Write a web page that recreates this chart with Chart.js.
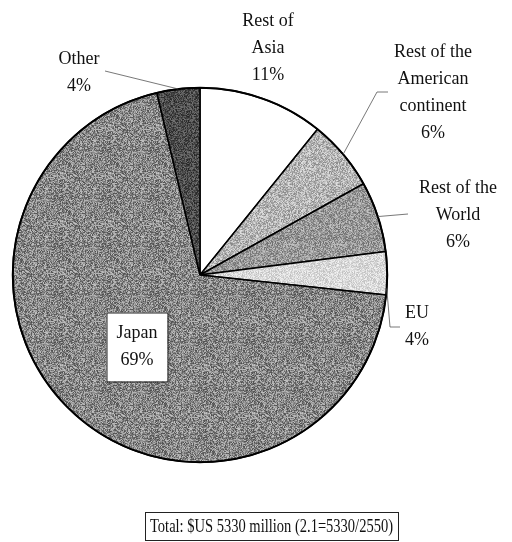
<!DOCTYPE html>
<html>
<head>
<meta charset="utf-8">
<script src="https://cdn.jsdelivr.net/npm/chart.js@4.4.0/dist/chart.umd.min.js"></script>
<style>
  html, body { margin: 0; padding: 0; background: #fff; }
  #wrap { width: 512px; height: 542px; position: relative; }
</style>
</head>
<body>
<div id="wrap"><canvas id="pie"></canvas></div>
<script>
// Data (clockwise from 12 o'clock)
const regions = ['Rest of Asia', 'Rest of the American continent', 'Rest of the World', 'EU', 'Japan', 'Other'];
const shares = [10.8, 6.1, 6.1, 3.7, 69.6, 3.7];
const shareLabels = ['11%', '6%', '6%', '4%', '69%', '4%'];
const labelLines = [['Rest of', 'Asia'], ['Rest of the', 'American', 'continent'], ['Rest of the', 'World'], ['EU'], ['Japan'], ['Other']];
const totalNote = 'Total: $US 5330 million (2.1=5330/2550)';

const FONT = '18px "Liberation Serif", "Times New Roman", serif';
const LINE_H = 27;

// label placement, relative to the pie centre (px); leader runs from the arc edge
const labelLayout = [
  { pos: [68, -227] },
  { pos: [233, -182], leader: [[177, -183], [188, -183]] },
  { pos: [258, -60], leader: [[208, -61]] },
  { pos: [217, 52], anchorFrac: 0.85, leader: [[190, 52], [200, 52]] },
  { pos: [-63, 72], boxed: true },
  { pos: [-121, -202], leader: [[-95, -204]] },
];

// grainy greys like the scanned print
function texture(base, amp, seed) {
  const n = 48;
  const c = document.createElement('canvas');
  c.width = c.height = n;
  const g = c.getContext('2d');
  const img = g.createImageData(n, n);
  for (let i = 0; i < n * n; i++) {
    const h = Math.sin((i + seed * 977) * 12.9898 + 78.233) * 43758.5453;
    const f = h - Math.floor(h);
    const v = Math.max(0, Math.min(255, Math.round(base + (f - 0.5) * amp)));
    img.data[i * 4] = img.data[i * 4 + 1] = img.data[i * 4 + 2] = v;
    img.data[i * 4 + 3] = 255;
  }
  g.putImageData(img, 0, 0);
  return g.createPattern(c, 'repeat');
}

const fills = [
  '#ffffff',
  texture(180, 90, 1),
  texture(152, 90, 2),
  texture(218, 55, 3),
  texture(136, 120, 4),
  texture(76, 80, 5),
];

const pieLabels = {
  id: 'pieLabels',
  afterDatasetsDraw(chart) {
    const ctx = chart.ctx;
    const arcs = chart.getDatasetMeta(0).data;
    const cx = arcs[0].x, cy = arcs[0].y, r = arcs[0].outerRadius;

    // outer rim
    ctx.save();
    ctx.beginPath();
    ctx.arc(cx, cy, r, 0, Math.PI * 2);
    ctx.lineWidth = 2;
    ctx.strokeStyle = '#000';
    ctx.stroke();

    ctx.font = FONT;
    ctx.textAlign = 'center';
    ctx.textBaseline = 'middle';

    arcs.forEach((arc, i) => {
      const lay = labelLayout[i];
      const lines = labelLines[i].concat([shareLabels[i]]);
      const lx = cx + lay.pos[0], ly = cy + lay.pos[1];

      if (lay.leader) {
        const frac = lay.anchorFrac ?? 0.5;
        const a = arc.startAngle + (arc.endAngle - arc.startAngle) * frac;
        ctx.beginPath();
        ctx.moveTo(cx + Math.cos(a) * r, cy + Math.sin(a) * r);
        lay.leader.forEach(p => ctx.lineTo(cx + p[0], cy + p[1]));
        ctx.lineWidth = 0.8;
        ctx.strokeStyle = '#555';
        ctx.stroke();
      }

      if (lay.boxed) {
        const w = 61, h = lines.length * LINE_H + 15;
        ctx.fillStyle = '#fff';
        ctx.fillRect(lx - w / 2, ly - h / 2, w, h);
        ctx.lineWidth = 1;
        ctx.strokeStyle = '#222';
        ctx.strokeRect(lx - w / 2 + 0.5, ly - h / 2 + 0.5, w, h);
      }

      ctx.fillStyle = '#111';
      lines.forEach((t, k) => {
        ctx.fillText(t, lx, ly + (k - (lines.length - 1) / 2) * LINE_H);
      });
    });

    // total note box under the pie (the print uses a narrower face here)
    const bx = 145, by = 512, bw = 253, bh = 28;
    ctx.lineWidth = 1;
    ctx.strokeStyle = '#222';
    ctx.strokeRect(bx + 0.5, by + 0.5, bw, bh);
    ctx.fillStyle = '#111';
    const tw = ctx.measureText(totalNote).width;
    const sx = Math.min(1, (bw - 10) / tw);
    ctx.translate(bx + bw / 2, by + bh / 2 + 1);
    ctx.scale(sx, 1);
    ctx.fillText(totalNote, 0, 0);
    ctx.restore();
  }
};

new Chart(document.getElementById('pie'), {
  type: 'pie',
  data: {
    labels: regions,
    datasets: [{
      data: shares,
      backgroundColor: fills,
      borderColor: '#000',
      borderWidth: 1.5,
      borderAlign: 'center',
    }],
  },
  options: {
    responsive: true,
    maintainAspectRatio: false,
    animation: false,
    events: [],
    layout: { padding: { left: 12, right: 124, top: 87, bottom: 79 } },
    plugins: {
      legend: { display: false },
      tooltip: { enabled: false },
    },
  },
  plugins: [pieLabels],
});
</script>
</body>
</html>
